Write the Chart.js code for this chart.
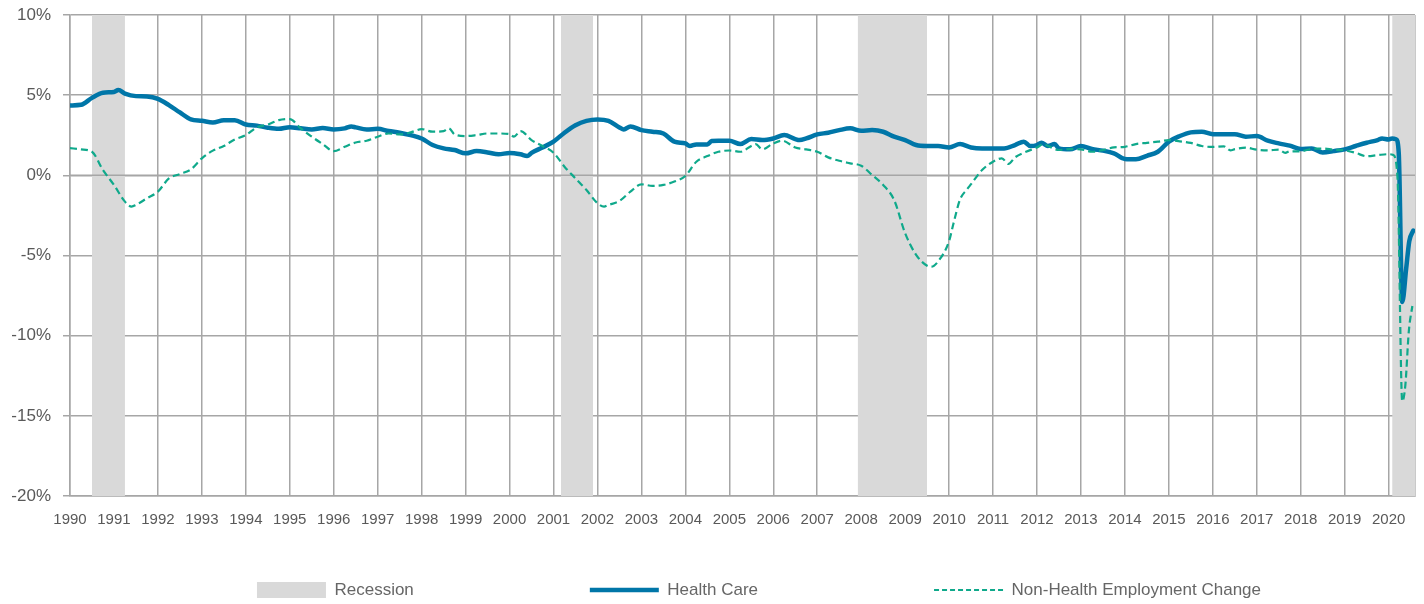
<!DOCTYPE html>
<html><head><meta charset="utf-8">
<script src="https://cdn.jsdelivr.net/npm/chart.js@4"></script>
<style>html,body{margin:0;padding:0;background:#fff}canvas{display:block}</style>
</head><body>
<canvas id="c" width="1424" height="604"></canvas>
<script>
// ---- data ----
const recessionStarts = [1990.5, 2001.17, 2007.92, 2020.08];
const recessionEnds   = [1991.25, 2001.9, 2009.5, 2020.6];

const hcDates = [
 1990,1990.25,1990.5,1990.75,
 1991,1991.1,1991.25,1991.5,1991.75,
 1992,1992.25,1992.5,1992.75,
 1993,1993.25,1993.5,1993.75,
 1994,1994.25,1994.5,1994.75,
 1995,1995.25,1995.5,1995.75,
 1996,1996.25,1996.4,1996.5,1996.75,
 1997,1997.25,1997.5,1997.75,
 1998,1998.25,1998.5,1998.75,
 1999,1999.25,1999.5,1999.75,
 2000,2000.25,2000.4,2000.5,2000.75,
 2001,2001.25,2001.5,2001.75,
 2002,2002.25,2002.5,2002.6,2002.75,
 2003,2003.25,2003.5,2003.75,
 2004,2004.1,2004.25,2004.5,2004.6,2004.75,
 2005,2005.25,2005.5,2005.75,
 2006,2006.25,2006.5,2006.6,2006.75,
 2007,2007.25,2007.5,2007.75,
 2008,2008.25,2008.5,2008.75,
 2009,2009.25,2009.5,2009.75,
 2010,2010.25,2010.5,2010.75,
 2011,2011.25,2011.5,2011.7,2011.85,
 2012,2012.1,2012.25,2012.4,2012.5,2012.75,
 2013,2013.25,2013.5,2013.75,
 2014,2014.25,2014.5,2014.75,
 2015,2015.25,2015.5,2015.75,
 2016,2016.25,2016.5,2016.75,
 2017,2017.25,2017.5,2017.75,
 2018,2018.25,2018.5,2018.75,
 2019,2019.25,2019.5,2019.75,2019.85,
 2020,2020.08,2020.17,2020.23,2020.31,2020.4,2020.47,2020.56
];
const hcValues = [
 4.36,4.4,4.83,5.15,
 5.2,5.32,5.1,4.94,4.92,
 4.77,4.38,3.92,3.49,
 3.4,3.3,3.44,3.44,
 3.17,3.1,2.97,2.9,
 3.0,2.93,2.86,2.95,
 2.86,2.93,3.05,2.99,2.86,
 2.9,2.76,2.66,2.51,
 2.3,1.89,1.68,1.58,
 1.37,1.51,1.43,1.31,
 1.4,1.31,1.2,1.4,1.74,
 2.1,2.66,3.13,3.4,
 3.49,3.4,2.99,2.86,3.05,
 2.82,2.72,2.61,2.1,
 1.99,1.83,1.93,1.93,2.14,2.16,
 2.16,1.95,2.26,2.2,
 2.3,2.51,2.26,2.2,2.3,
 2.55,2.66,2.82,2.93,
 2.78,2.82,2.72,2.41,
 2.2,1.89,1.83,1.83,
 1.74,1.95,1.74,1.68,
 1.68,1.68,1.89,2.1,1.83,
 1.89,2.03,1.83,1.95,1.68,1.62,
 1.83,1.64,1.54,1.37,
 1.02,1.0,1.22,1.47,
 2.1,2.45,2.68,2.72,
 2.57,2.57,2.57,2.41,
 2.45,2.16,1.99,1.85,
 1.64,1.68,1.43,1.51,
 1.62,1.83,2.03,2.2,2.3,
 2.24,2.3,2.25,1.4,-7.9,-5.8,-4.1,-3.45
];

const nhDates = [
 1990,1990.25,1990.5,1990.75,
 1991,1991.25,1991.4,1991.5,1991.75,
 1992,1992.25,1992.5,1992.75,
 1993,1993.25,1993.5,1993.75,
 1994,1994.25,1994.5,1994.75,
 1995,1995.25,1995.5,1995.75,
 1996,1996.25,1996.5,1996.75,
 1997,1997.25,1997.5,1997.75,
 1998,1998.25,1998.5,1998.62,1998.75,
 1999,1999.25,1999.5,1999.75,
 2000,2000.1,2000.25,2000.5,2000.75,
 2001,2001.25,2001.5,2001.75,
 2002,2002.15,2002.25,2002.5,2002.75,
 2003,2003.25,2003.5,2003.75,
 2004,2004.25,2004.5,2004.75,
 2005,2005.25,2005.5,2005.6,2005.75,
 2006,2006.2,2006.5,2006.75,
 2007,2007.25,2007.5,2007.75,
 2008,2008.25,2008.5,2008.75,
 2009,2009.25,2009.5,2009.6,2009.75,
 2010,2010.1,2010.25,2010.4,2010.5,2010.75,
 2011,2011.2,2011.35,2011.5,2011.75,
 2012,2012.15,2012.25,2012.5,2012.75,
 2013,2013.25,2013.5,2013.75,
 2014,2014.25,2014.5,2014.75,
 2015,2015.25,2015.5,2015.75,
 2016,2016.25,2016.4,2016.5,2016.75,
 2017,2017.25,2017.5,2017.65,2017.75,
 2018,2018.25,2018.5,2018.75,
 2019,2019.25,2019.5,2019.75,
 2020,2020.1,2020.2,2020.31,2020.38,2020.46,2020.54
];
const nhValues = [
 1.7,1.62,1.47,0.33,
 -0.6,-1.64,-1.95,-1.85,-1.43,
 -1.02,-0.19,0.08,0.37,
 1.06,1.54,1.83,2.24,
 2.51,2.99,3.17,3.44,
 3.51,2.93,2.41,1.95,
 1.51,1.78,2.05,2.16,
 2.41,2.61,2.55,2.68,
 2.88,2.72,2.76,2.93,2.55,
 2.45,2.51,2.61,2.61,
 2.57,2.41,2.76,2.2,1.83,
 1.41,0.54,-0.19,-0.91,
 -1.74,-1.95,-1.85,-1.6,-1.02,
 -0.56,-0.66,-0.6,-0.39,
 -0.04,0.85,1.2,1.47,
 1.55,1.47,1.83,1.95,1.62,
 1.99,2.16,1.74,1.62,
 1.47,1.12,0.91,0.75,
 0.6,0.02,-0.6,-1.54,
 -3.61,-4.96,-5.64,-5.7,-5.37,
 -4.1,-3.0,-1.5,-0.9,-0.55,0.33,
 0.85,1.06,0.71,1.12,1.47,
 1.74,1.95,1.83,1.58,1.64,
 1.62,1.47,1.58,1.74,
 1.78,1.95,2.03,2.1,
 2.2,2.12,2.02,1.83,
 1.77,1.81,1.56,1.63,1.73,
 1.6,1.56,1.6,1.4,1.5,
 1.5,1.65,1.67,1.6,
 1.56,1.4,1.19,1.26,
 1.32,1.28,-0.05,-14.1,-13.1,-9.7,-8.15
];

// ---- axis settings ----
const X_MIN = 1990, X_MAX = 2020.6;
const Y_MIN = -20, Y_MAX = 10, Y_STEP = 5;

// ---- styling ----
const FONT = '"Liberation Sans", Arial, sans-serif';
const TEXT = '#595959';
const GRID = '#a6a6a6';
const HC_COLOR = '#0076A8';
const NH_COLOR = '#0FA98B';
const BAND = '#d9d9d9';

const bandPoints = [];
recessionStarts.forEach((s, i) => {
  bandPoints.push({x: s, y: Y_MAX}, {x: recessionEnds[i], y: Y_MAX}, {x: recessionEnds[i], y: null});
});

const LEG_PAD = 176;     // gap between legend items
const LEG_TOP = 10;      // offset of legend items from legend top

new Chart(document.getElementById('c'), {
  type: 'line',
  data: {
    datasets: [
      {label: 'Health Care', data: hcDates.map((d, i) => ({x: d, y: hcValues[i]})),
       borderColor: HC_COLOR, backgroundColor: HC_COLOR, borderWidth: 4.5, pointRadius: 0,
       cubicInterpolationMode: 'monotone', borderJoinStyle: 'round', borderCapStyle: 'round', order: 2},
      {label: 'Non-Health Employment Change', data: nhDates.map((d, i) => ({x: d, y: nhValues[i]})),
       borderColor: NH_COLOR, backgroundColor: NH_COLOR, borderWidth: 2.2, borderDash: [7, 4],
       pointRadius: 0, cubicInterpolationMode: 'monotone', order: 1},
      {label: 'zero', data: [{x: X_MIN, y: 0}, {x: X_MAX, y: 0}], borderColor: GRID,
       borderWidth: 1.5, pointRadius: 0, order: 3},
      {label: 'Recession', data: bandPoints, borderWidth: 0, borderColor: BAND, backgroundColor: BAND,
       fill: 'start', pointRadius: 0, spanGaps: false, order: 4}
    ]
  },
  options: {
    responsive: false,
    animation: false,
    events: [],
    devicePixelRatio: 1,
    layout: {padding: {left: 0, right: -13, top: 15, bottom: 0}},
    scales: {
      x: {
        type: 'linear', min: X_MIN, max: X_MAX,
        afterFit: s => { s.height = 75.5; },
        grid: {color: GRID, lineWidth: 1.5, drawTicks: false},
        border: {color: GRID, width: 1.5},
        ticks: {stepSize: 1, includeBounds: false, autoSkip: false, maxRotation: 0, padding: 15,
                color: TEXT, font: {family: FONT, size: 15}, callback: v => String(v)}
      },
      y: {
        min: Y_MIN, max: Y_MAX,
        afterFit: s => { s.width = 70; s.paddingTop = 0; s.paddingBottom = 0; },
        grid: {color: GRID, lineWidth: 1.5, tickLength: 7},
        border: {color: GRID, width: 1.5},
        ticks: {stepSize: Y_STEP, padding: 12, color: TEXT, font: {family: FONT, size: 17},
                callback: v => v + '%'}
      },
      y2: {
        position: 'right', min: Y_MIN, max: Y_MAX,
        afterFit: s => { s.width = 22; s.paddingTop = 0; s.paddingBottom = 0; },
        grid: {display: false}, ticks: {display: false},
        border: {display: true, color: '#c9c9c9', width: 1}
      }
    },
    plugins: {
      tooltip: {enabled: false},
      legend: {
        position: 'bottom', align: 'end', maxHeight: 32.5,
        title: {display: true, text: '', font: {size: 10, lineHeight: 1},
                padding: {top: LEG_TOP - LEG_PAD - 10, bottom: 0}},
        labels: {
          usePointStyle: true, pointStyleWidth: 69, boxHeight: 16, padding: LEG_PAD,
          color: TEXT, font: {family: FONT, size: 17},
          generateLabels: chart => {
            const ds = chart.data.datasets;
            return [
              {text: ds[3].label, fillStyle: BAND, strokeStyle: BAND, lineWidth: 0, pointStyle: 'rect', datasetIndex: 3},
              {text: ds[0].label, fillStyle: HC_COLOR, strokeStyle: HC_COLOR, lineWidth: 4.5, pointStyle: 'line', datasetIndex: 0},
              {text: ds[1].label, fillStyle: NH_COLOR, strokeStyle: NH_COLOR, lineWidth: 2.2, lineDash: [5, 3], pointStyle: 'line', datasetIndex: 1}
            ];
          }
        }
      }
    }
  }
});
</script>
</body></html>
